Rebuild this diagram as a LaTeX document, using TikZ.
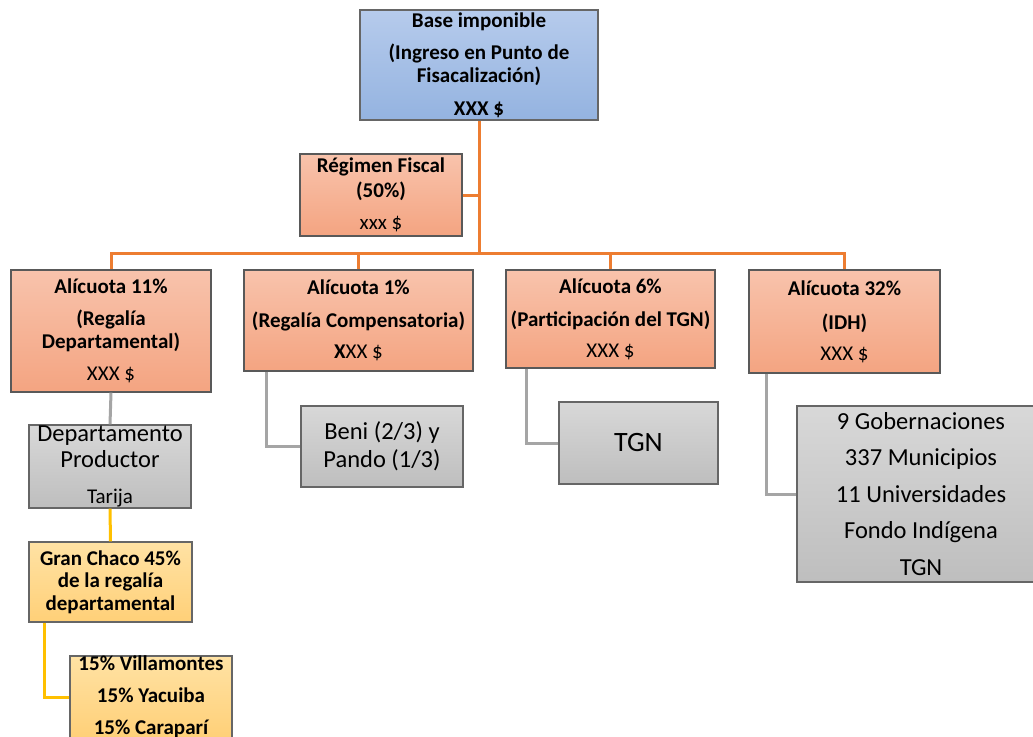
\documentclass[tikz,border=0pt]{standalone}
\usepackage{fontspec}
\setmainfont{Carlito}
\usepackage{tikz}
\definecolor{bluetop}{RGB}{182,203,236}
\definecolor{bluebot}{RGB}{148,179,224}
\definecolor{salmtop}{RGB}{248,195,172}
\definecolor{salmbot}{RGB}{244,164,129}
\definecolor{graytop}{RGB}{216,216,216}
\definecolor{graybot}{RGB}{190,190,190}
\definecolor{goldtop}{RGB}{255,226,164}
\definecolor{goldbot}{RGB}{255,208,120}
\definecolor{orangeln}{RGB}{237,125,49}
\definecolor{grayln}{RGB}{165,165,165}
\definecolor{goldln}{RGB}{255,192,0}
\tikzstyle{boxbase}=[draw, rectangle, line width=1.2pt, align=center, inner sep=0pt]
\tikzstyle{bluebox}=[boxbase, draw=black!60, top color=bluetop, bottom color=bluebot,
    font=\fontsize{21}{22.5}\selectfont\bfseries]
\tikzstyle{salmbox}=[boxbase, draw=black!65, top color=salmtop, bottom color=salmbot,
    font=\fontsize{21}{22.5}\selectfont\bfseries]
\tikzstyle{graybox}=[boxbase, draw=black!60, top color=graytop, bottom color=graybot,
    font=\fontsize{24.5}{28}\selectfont]
\tikzstyle{goldbox}=[boxbase, draw=black!60, top color=goldtop, bottom color=goldbot,
    font=\fontsize{21}{22.5}\selectfont\bfseries]
\tikzstyle{oline}=[draw=orangeln, line width=3pt]
\tikzstyle{gline}=[draw=grayln, line width=3pt]
\tikzstyle{yline}=[draw=goldln, line width=3pt]
\begin{document}
\begin{tikzpicture}[x=1pt,y=-1pt]
  \useasboundingbox (0,0) rectangle (1033,736);
  \clip (0,0) rectangle (1033,736);
  % boxes
  \node at (479,65) (base)[bluebox, minimum width=238pt, minimum height=110pt]
    {Base imponible\\[9.5pt](Ingreso en Punto de\\Fisacalización)\\[10.5pt]XXX \$};
  \node at (381,195) (regimen)[salmbox, minimum width=162pt, minimum height=82pt]
    {Régimen Fiscal\\[2.5pt](50\%)\\[9.5pt]{\mdseries xxx \$}};
  \coordinate (bus) at (479,253);

  \node at (111,331) (ali11)[salmbox, minimum width=200pt, minimum height=122pt]
    {Alícuota 11\%\\[9.5pt](Regalía\\Departamental)\\[9.5pt]{\mdseries XXX \$}};
  \node at (358.5,320.5) (ali1)[salmbox, minimum width=229pt, minimum height=101pt]
    {Alícuota 1\%\\[10.5pt](Regalía Compensatoria)\\[8.5pt]X{\mdseries XX \$}};
  \node at (610.5,319) (ali6)[salmbox, minimum width=209pt, minimum height=98pt]
    {Alícuota 6\%\\[10.5pt](Participación del TGN)\\[8.5pt]{\mdseries XXX \$}};
  \node at (844.5,321.5) (ali32)[salmbox, minimum width=191pt, minimum height=103pt]
    {Alícuota 32\%\\[11.5pt](IDH)\\[8.5pt]{\mdseries XXX \$}};

  \node at (110,466.5) (depto)[graybox, minimum width=162pt, minimum height=83pt]
    {Departamento\\[-2pt]Productor\\[8pt]{\fontsize{21}{24}\selectfont Tarija}};
  \node at (382,446.5) (beni)[graybox, minimum width=162pt, minimum height=81pt]
    {Beni (2/3) y\\Pando (1/3)};
  \node at (638.5,443) (tgn)[graybox, minimum width=159pt, minimum height=82pt,
    font=\fontsize{28}{32}\selectfont] {TGN};
  \node at (921,494) (idh)[graybox, minimum width=248pt, minimum height=176pt,
    font=\fontsize{24.5}{36.5}\selectfont]
    {9 Gobernaciones\\337 Municipios\\11 Universidades\\Fondo Indígena\\TGN};

  \node at (110.5,582) (chaco)[goldbox, minimum width=163pt, minimum height=80pt]
    {Gran Chaco 45\%\\de la regalía\\departamental};
  \node at (151,697) (villa)[goldbox, minimum width=162pt, minimum height=82pt,
    font=\fontsize{21}{32}\selectfont\bfseries]
    {15\% Villamontes\\15\% Yacuiba\\15\% Caraparí};

  % connectors
  \draw[oline] (base.south) -- (bus);
  \draw[oline] (regimen.east) -- (regimen.east -| bus);
  \draw[oline] (ali11.north) -- (ali11.north |- bus) -- (ali32.north |- bus) -- (ali32.north);
  \draw[oline] (ali1.north) -- (ali1.north |- bus);
  \draw[oline] (ali6.north) -- (ali6.north |- bus);

  \draw[gline] (ali11.south) -- (depto.north);
  \draw[gline] ([xshift=23pt]ali1.south west) |- (beni.west);
  \draw[gline] ([xshift=21pt]ali6.south west) |- (tgn.west);
  \draw[gline] ([xshift=18pt]ali32.south west) |- (idh.west);

  \draw[yline] (depto.south) -- (chaco.north);
  \draw[yline] ([xshift=16pt]chaco.south west) |- (villa.west);
\end{tikzpicture}
\end{document}
